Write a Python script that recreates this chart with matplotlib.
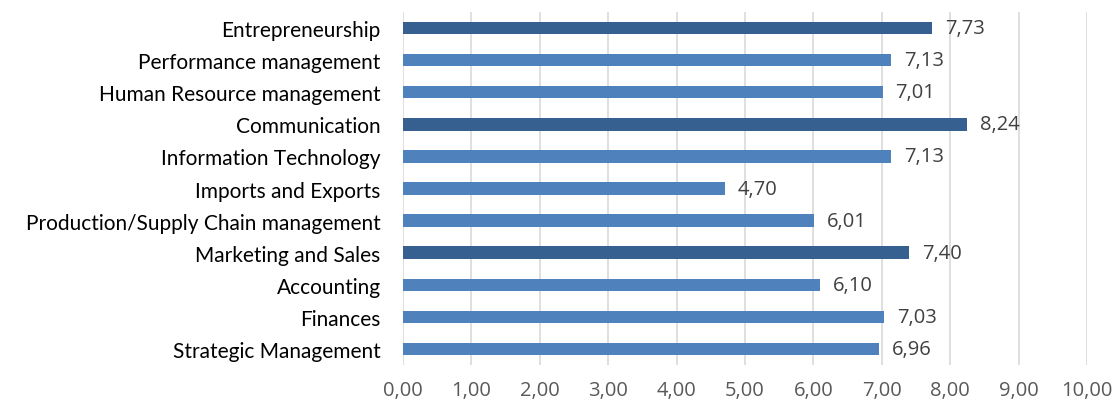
import matplotlib
matplotlib.use('Agg')
import matplotlib.pyplot as plt

# data (top to bottom as in the chart)
categories = ['Entrepreneurship', 'Performance management', 'Human Resource management',
              'Communication', 'Information Technology', 'Imports and Exports',
              'Production/Supply Chain management', 'Marketing and Sales', 'Accounting',
              'Finances', 'Strategic Management']
values = [7.73, 7.13, 7.01, 8.24, 7.13, 4.70, 6.01, 7.40, 6.10, 7.03, 6.96]
highlight = ['Entrepreneurship', 'Communication', 'Marketing and Sales']

plt.rcParams['font.family'] = ['Lato', 'DejaVu Sans']
num_font = ['Open Sans', 'DejaVu Sans']

fig = plt.figure(figsize=(11.15, 4.06), dpi=100)
ax = fig.add_axes([0.3614, 0.0985, 0.6136, 0.8695])

colors = ['#36608F' if c in highlight else '#4F81BD' for c in categories]
ypos = list(range(len(categories)))[::-1]
ax.barh(ypos, values, height=0.39, color=colors, zorder=3)

for y, v in zip(ypos, values):
    ax.text(v + 0.19, y, f'{v:.2f}'.replace('.', ','), va='center', ha='left',
            fontsize=14.5, color='#404040', family=num_font)

ax.set_xlim(0, 10)
ax.set_ylim(-0.5, 10.5)
ax.set_xticks(range(11))
ax.set_xticklabels([f'{i},00' for i in range(11)], fontsize=14.5, color='#595959',
                   family=num_font)
ax.set_yticks(ypos)
ax.set_yticklabels(categories, fontsize=15, color='black')
ax.tick_params(axis='both', length=0)
ax.tick_params(axis='x', pad=11)
ax.tick_params(axis='y', pad=16)
ax.grid(axis='x', color='#D9D9D9', linewidth=1.2, zorder=0)
for s in ax.spines.values():
    s.set_visible(False)

fig.savefig('out.png', dpi=100)
